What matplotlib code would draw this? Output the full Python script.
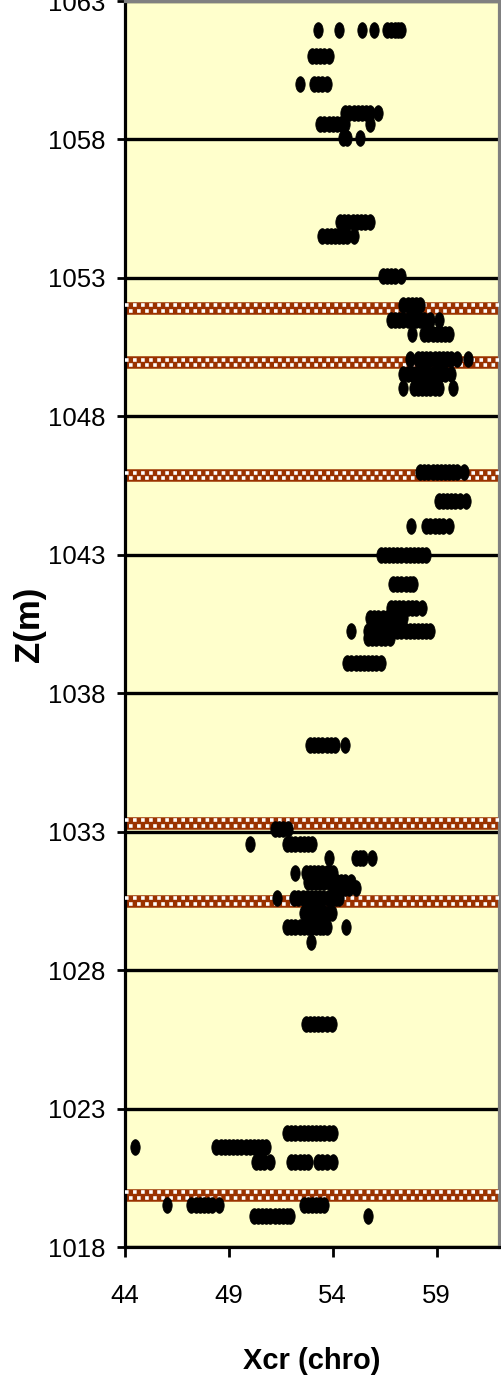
import numpy as np
import matplotlib
matplotlib.use("Agg")
import matplotlib.pyplot as plt
from matplotlib.path import Path
from matplotlib.transforms import offset_copy

# ── Data: depth rows (m) and the Xcr readings at each depth ──────────
z_upper = [1061.96, 1061.03, 1060.02, 1058.97, 1058.54, 1058.04,
           1055.01, 1054.5, 1053.06]
x_upper = [
    [53.3, 54.3, 55.4, 56.0, 56.6, 56.8, 57.0, 57.15, 57.3],
    [53.0, 53.2, 53.4, 53.6, 53.8],
    [52.4, 53.1, 53.3, 53.5, 53.7],
    [54.6, 54.8, 55.0, 55.2, 55.4, 55.6, 55.8, 56.2],
    [53.4, 53.6, 53.8, 54.0, 54.2, 54.4, 54.6, 55.8],
    [54.5, 54.7, 55.3],
    [54.35, 54.55, 54.75, 54.95, 55.15, 55.35, 55.55, 55.8],
    [53.5, 53.7, 53.9, 54.1, 54.3, 54.5, 54.7, 55.0],
    [56.4, 56.6, 56.8, 57.0, 57.3],
]

z_middle = [1052.02, 1051.48, 1050.97, 1050.07, 1049.53, 1049.03,
            1046.0, 1044.95, 1044.05, 1043.01, 1041.96, 1041.06,
            1040.7, 1040.23, 1039.98, 1039.08]
x_middle = [
    [57.4, 57.6, 57.8, 58.0, 58.2],
    [56.8, 57.0, 57.2, 57.4, 57.6, 57.8, 58.0, 58.2, 58.4, 58.66, 59.1],
    [57.8, 58.4, 58.6, 58.8, 59.0, 59.2, 59.4, 59.6],
    [57.7, 58.1, 58.3, 58.5, 58.7, 58.9, 59.1, 59.3, 59.5, 59.7, 60.0, 60.5],
    [57.4, 57.6, 57.8, 58.0, 58.2, 58.4, 58.6, 58.8, 59.0, 59.2, 59.4, 59.7],
    [57.4, 57.9, 58.1, 58.3, 58.5, 58.7, 58.9, 59.1, 59.8],
    [58.2, 58.4, 58.6, 58.8, 59.0, 59.2, 59.4, 59.6, 59.8, 60.0, 60.3],
    [59.1, 59.3, 59.5, 59.7, 59.9, 60.1, 60.4],
    [57.75, 58.5, 58.7, 58.9, 59.1, 59.3, 59.6],
    [56.3, 56.5, 56.7, 56.9, 57.1, 57.3, 57.5, 57.7, 57.9, 58.1, 58.3, 58.5],
    [56.9, 57.1, 57.3, 57.5, 57.7, 57.85],
    [56.8, 57.0, 57.2, 57.4, 57.6, 57.8, 58.0, 58.3],
    [55.8, 56.0, 56.2, 56.4, 56.6, 56.8, 57.0, 57.2, 57.4],
    [54.9, 55.7, 55.9, 56.1, 56.3, 56.5, 56.7, 56.9, 57.1, 57.3, 57.5,
     57.7, 57.9, 58.1, 58.3, 58.5, 58.66],
    [55.7, 55.9, 56.1, 56.3, 56.5, 56.75],
    [54.7, 54.9, 55.1, 55.3, 55.5, 55.7, 55.9, 56.1, 56.3],
]

z_lower = [1036.13, 1033.1, 1032.56, 1032.05, 1031.51, 1031.2, 1030.97,
           1030.6, 1030.07, 1029.57, 1029.03, 1026.07]
x_lower = [
    [52.9, 53.1, 53.3, 53.5, 53.7, 53.9, 54.1, 54.6],
    [51.2, 51.4, 51.6, 51.85],
    [50.0, 51.8, 52.0, 52.2, 52.4, 52.6, 52.8, 53.0],
    [53.8, 55.1, 55.3, 55.45, 55.9],
    [52.2, 52.7, 52.9, 53.1, 53.3, 53.5, 53.7, 53.85, 54.0],
    [52.8, 53.0, 53.2, 53.4, 53.6, 53.8, 54.0, 54.2, 54.4, 54.6, 54.9],
    [54.0, 54.2, 54.4, 54.6, 54.8, 55.1],
    [51.3, 52.15, 52.35, 52.55, 52.75, 52.95, 53.15, 53.35, 53.55, 53.75,
     53.95, 54.15, 54.3],
    [52.6, 52.8, 53.0, 53.2, 53.4, 53.6, 53.8, 53.95],
    [51.8, 52.0, 52.2, 52.4, 52.6, 52.8, 53.0, 53.2, 53.4, 53.55, 53.7,
     54.65],
    [52.95],
    [52.7, 52.9, 53.1, 53.3, 53.5, 53.7, 53.95],
]

z_bottom = [1022.11, 1021.6, 1021.06, 1019.51, 1019.12]
x_bottom = [
    [51.8, 52.0, 52.2, 52.4, 52.6, 52.8, 53.0, 53.2, 53.4, 53.6, 53.8, 54.0],
    [44.5, 48.4, 48.6, 48.8, 49.0, 49.2, 49.4, 49.6, 49.8, 50.0, 50.2,
     50.4, 50.6, 50.8],
    [50.3, 50.5, 50.7, 51.0, 52.0, 52.2, 52.4, 52.6, 52.8, 53.3, 53.5,
     53.7, 54.0],
    [46.0, 47.2, 47.4, 47.6, 47.8, 48.0, 48.2, 48.5, 52.6, 52.8, 53.0,
     53.2, 53.4, 53.6],
    [50.2, 50.4, 50.6, 50.8, 51.0, 51.2, 51.4, 51.6, 51.8, 51.95, 55.7],
]

# depths of the marked (hatched) horizons
horizons = [1051.91, 1049.95, 1045.87, 1033.32, 1030.49, 1019.87]

x_ticks = [44, 49, 54, 59]
y_ticks = list(range(1018, 1064, 5))

# ── Flatten rows into point arrays ──────────────────────────────────
depth, xcr = [], []
for zs, xs in [(z_upper, x_upper), (z_middle, x_middle),
               (z_lower, x_lower), (z_bottom, x_bottom)]:
    for z, row in zip(zs, xs):
        depth += [z] * len(row)
        xcr += row

plt.rcParams["lines.scale_dashes"] = False
tick_font = ["Liberation Sans Narrow", "Liberation Sans", "DejaVu Sans"]
label_font = ["Liberation Sans", "DejaVu Sans"]

fig = plt.figure(figsize=(5.01, 13.84), dpi=100)
ax = fig.add_axes([125 / 501, 1 - 1247 / 1384, 374 / 501, 1246 / 1384])
ax.set_facecolor("#FFFFCC")

# tall ellipse marker, like the stretched Excel dots
t = np.linspace(0, 2 * np.pi, 40)
ellipse = Path(np.column_stack([0.6 * np.cos(t), np.sin(t)]), closed=True)

ax.plot(xcr, depth, linestyle="none", marker=ellipse, markersize=11.3,
        markerfacecolor="black", markeredgecolor="black",
        markeredgewidth=0.5, zorder=4)

# ── Hatched horizons: brown band with two staggered rows of white squares
ytrans = ax.get_yaxis_transform()
for h in horizons:
    ax.plot([0, 1], [h, h], transform=ytrans, color="#9A3200",
            lw=9.0, solid_capstyle="butt", zorder=2)
    for dy, off in [(2.0, 0.0), (-2.0, 2.9)]:
        tr = offset_copy(ytrans, fig=fig, y=dy, units="points")
        ax.plot([0, 1], [h, h], transform=tr, color="white", lw=2.6,
                linestyle=(off, (2.6, 3.2)), dash_capstyle="butt", zorder=3)

ax.set_xlim(44, 62)
ax.set_ylim(1018, 1063)
ax.set_xticks(x_ticks)
ax.set_yticks(y_ticks)

ax.yaxis.grid(True, color="black", lw=2.4, zorder=1)
ax.set_axisbelow(True)

for side in ["left", "bottom"]:
    ax.spines[side].set_color("black")
    ax.spines[side].set_linewidth(2.3)
for side in ["top", "right"]:
    ax.spines[side].set_color("#808080")
    ax.spines[side].set_linewidth(2.3)

ax.tick_params(axis="y", direction="out", length=6, width=2, pad=8,
               labelsize=18.5)
ax.tick_params(axis="x", direction="out", length=7.5, width=2, pad=19,
               labelsize=18.5)
for lab in ax.get_xticklabels() + ax.get_yticklabels():
    lab.set_family(tick_font)

ax.set_xlabel("Xcr (chro)", fontsize=21, fontweight="bold",
              family=label_font, labelpad=28)
ax.set_ylabel("Z(m)", fontsize=25, fontweight="bold", family=label_font)
ax.yaxis.set_label_coords(-0.212, 0.5)

fig.savefig("out.png", dpi=100, facecolor="white")
